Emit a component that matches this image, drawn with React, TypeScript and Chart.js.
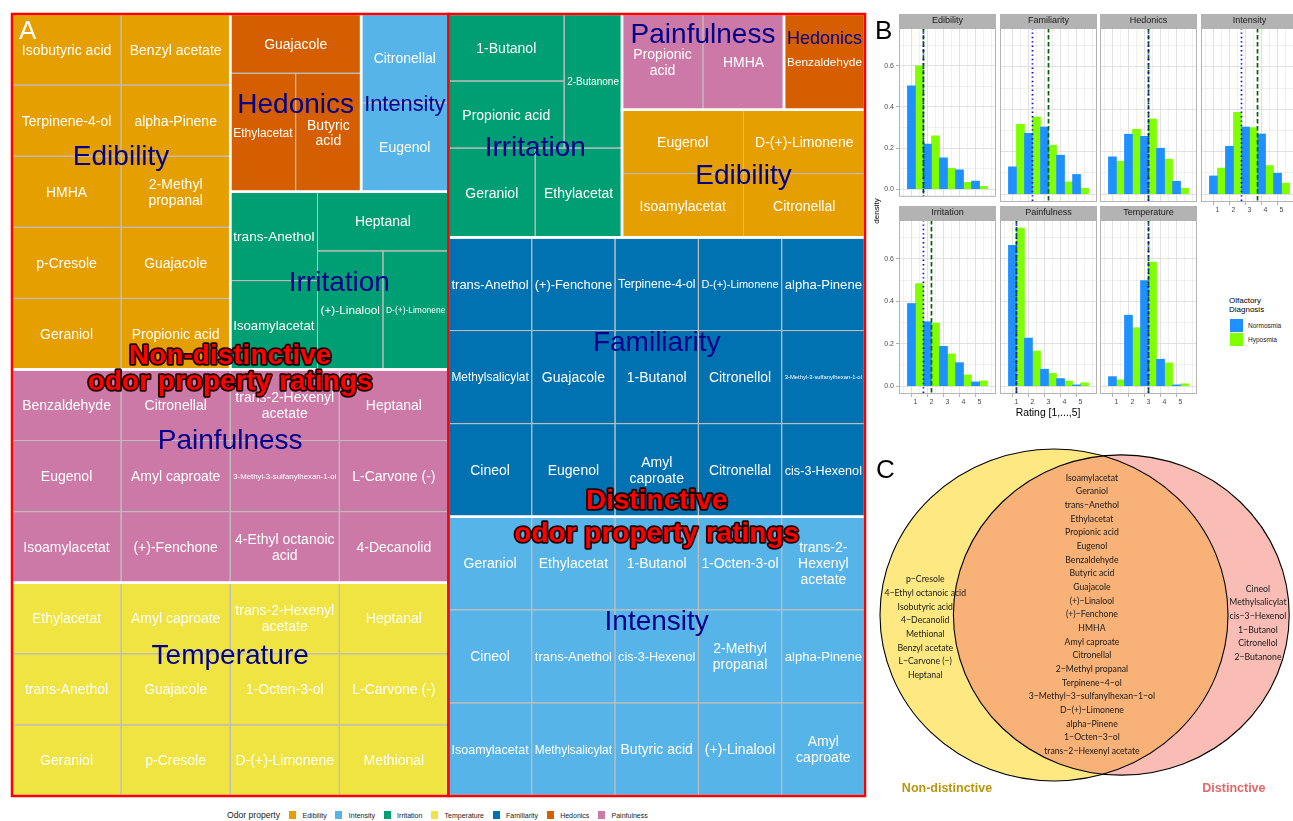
import React, { useEffect, useRef } from "react";
import { Chart, registerables } from "chart.js";

Chart.register(...registerables);

const FONT = "'Liberation Sans', Arial, Helvetica, sans-serif";
const VFONT = "Lato, 'Open Sans', sans-serif";
Chart.defaults.font.family = FONT;

// ================= Panel A: treemap data =================
const propertyNames = ["Edibility", "Intensity", "Irritation", "Temperature", "Familiarity", "Hedonics", "Painfulness"];
const propertyColors = ["#E69F00", "#56B4E9", "#009E73", "#F0E442", "#0072B2", "#D55E00", "#CC79A7"];
const subgroupLines = [
  ["Non-distinctive", "odor property ratings"],
  ["Distinctive", "odor property ratings"],
];
const subgroupLabelY = [
  [0.435, 0.468],
  [0.62, 0.662],
];

const ndEdibility = ["Isobutyric acid", "Benzyl acetate", "Terpinene-4-ol", "alpha-Pinene", "HMHA", "2-Methyl propanal", "p-Cresole", "Guajacole", "Geraniol", "Propionic acid"];
const ndHedonics = ["Guajacole", "Ethylacetat", "Butyric acid"];
const ndIntensity = ["Citronellal", "Eugenol"];
const ndIrritation = ["trans-Anethol", "Isoamylacetat", "Heptanal", "(+)-Linalool", "D-(+)-Limonene"];
const ndPainfulness = ["Benzaldehyde", "Citronellal", "trans-2-Hexenyl acetate", "Heptanal", "Eugenol", "Amyl caproate", "3-Methyl-3-sulfanylhexan-1-ol", "L-Carvone (-)", "Isoamylacetat", "(+)-Fenchone", "4-Ethyl octanoic acid", "4-Decanolid"];
const ndTemperature = ["Ethylacetat", "Amyl caproate", "trans-2-Hexenyl acetate", "Heptanal", "trans-Anethol", "Guajacole", "1-Octen-3-ol", "L-Carvone (-)", "Geraniol", "p-Cresole", "D-(+)-Limonene", "Methional"];
const dIrritation = ["1-Butanol", "Propionic acid", "2-Butanone", "Geraniol", "Ethylacetat"];
const dPainfulness = ["Propionic acid", "HMHA"];
const dHedonics = ["Benzaldehyde"];
const dEdibility = ["Eugenol", "D-(+)-Limonene", "Isoamylacetat", "Citronellal"];
const dFamiliarity = ["trans-Anethol", "(+)-Fenchone", "Terpinene-4-ol", "D-(+)-Limonene", "alpha-Pinene", "Methylsalicylat", "Guajacole", "1-Butanol", "Citronellol", "3-Methyl-3-sulfanylhexan-1-ol", "Cineol", "Eugenol", "Amyl caproate", "Citronellal", "cis-3-Hexenol"];
const dIntensity = ["Geraniol", "Ethylacetat", "1-Butanol", "1-Octen-3-ol", "trans-2-Hexenyl acetate", "Cineol", "trans-Anethol", "cis-3-Hexenol", "2-Methyl propanal", "alpha-Pinene", "Isoamylacetat", "Methylsalicylat", "Butyric acid", "(+)-Linalool", "Amyl caproate"];

// ================= Panel B: density data =================
const ratings = [1, 2, 3, 4, 5];
const facetNames = ["Edibility", "Familiarity", "Hedonics", "Intensity", "Irritation", "Painfulness", "Temperature"];
const normEdibility = [0.503, 0.22, 0.152, 0.094, 0.039];
const hypoEdibility = [0.6, 0.259, 0.102, 0.033, 0.014];
const normFamiliarity = [0.129, 0.287, 0.317, 0.184, 0.093];
const hypoFamiliarity = [0.33, 0.364, 0.231, 0.058, 0.028];
const normHedonics = [0.176, 0.283, 0.273, 0.217, 0.061];
const hypoHedonics = [0.155, 0.306, 0.355, 0.165, 0.028];
const normIntensity = [0.086, 0.226, 0.317, 0.284, 0.099];
const hypoIntensity = [0.123, 0.386, 0.314, 0.135, 0.052];
const normIrritation = [0.39, 0.304, 0.188, 0.111, 0.02];
const hypoIrritation = [0.484, 0.298, 0.152, 0.053, 0.025];
const normPainfulness = [0.665, 0.227, 0.08, 0.036, 0.006];
const hypoPainfulness = [0.746, 0.166, 0.06, 0.024, 0.016];
const normTemperature = [0.045, 0.335, 0.498, 0.127, 0.006];
const hypoTemperature = [0.03, 0.276, 0.585, 0.11, 0.011];
const normMedian = [1.5, 2, 3, 2.5, 1.5, 1, 3];
const hypoMedian = [1.5, 3, 3, 3.5, 2, 1, 3];
const diagnosisNames = ["Normosmia", "Hyposmia"];
const diagnosisColors = ["#1E90FF", "#7FFF00"];
const yTickValues = [0, 0.1, 0.2, 0.3, 0.4, 0.5, 0.6, 0.7];
const xTickValues = [0.5, 1, 1.5, 2, 2.5, 3, 3.5, 4, 4.5, 5, 5.5];

const normByFacet = [normEdibility, normFamiliarity, normHedonics, normIntensity, normIrritation, normPainfulness, normTemperature];
const hypoByFacet = [hypoEdibility, hypoFamiliarity, hypoHedonics, hypoIntensity, hypoIrritation, hypoPainfulness, hypoTemperature];

// ================= Panel C: Venn data =================
const vennLeftOnly = ["p\u2212Cresole", "4\u2212Ethyl octanoic acid", "Isobutyric acid", "4\u2212Decanolid", "Methional", "Benzyl acetate", "L\u2212Carvone (\u2212)", "Heptanal"];
const vennBoth = ["Isoamylacetat", "Geraniol", "trans\u2212Anethol", "Ethylacetat", "Propionic acid", "Eugenol", "Benzaldehyde", "Butyric acid", "Guajacole", "(+)\u2212Linalool", "(+)\u2212Fenchone", "HMHA", "Amyl caproate", "Citronellal", "2\u2212Methyl propanal", "Terpinene\u22124\u2212ol", "3\u2212Methyl\u22123\u2212sulfanylhexan\u22121\u2212ol", "D\u2212(+)\u2212Limonene", "alpha\u2212Pinene", "1\u2212Octen\u22123\u2212ol", "trans\u22122\u2212Hexenyl acetate"];
const vennRightOnly = ["Cineol", "Methylsalicylat", "cis\u22123\u2212Hexenol", "1\u2212Butanol", "Citronellol", "2\u2212Butanone"];
const vennCategories = ["Non-distinctive", "Distinctive"];
const vennCategoryColors = ["#B8970F", "#E46868"];
const vennFill = ["rgba(251,209,5,0.5)", "rgba(243,123,107,0.5)"];
const vennTextX = [-0.74, 0.218, 1.172];
const vennTextY = [-0.075, 0.003, -0.048];
const vennCatX = [-0.615, 1.034];
const vennCatY = -1.048;

// ================= Treemap layout =================
type Spec = any;
const H = (...c: Spec[]) => ({ d: "h", c });
const V = (...c: Spec[]) => ({ d: "v", c });
const G = (g: number) => ({ g });
function grid(n: number, cols: number) {
  const rows: Spec[] = [];
  for (let i = 0; i < n; i += cols) {
    const r: number[] = [];
    for (let j = i; j < Math.min(n, i + cols); j++) r.push(j);
    rows.push(H(...r));
  }
  return V(...rows);
}

const groupTable = [
  { sub: 0, prop: 0, items: ndEdibility, arr: grid(10, 2), labelY: 0.396 },
  { sub: 0, prop: 5, items: ndHedonics, arr: V(0, H(1, 2)), labelY: 0.5 },
  { sub: 0, prop: 1, items: ndIntensity, arr: V(0, 1), labelY: 0.5 },
  { sub: 0, prop: 2, items: ndIrritation, arr: H(V(0, 1), V(2, H(3, 4))), labelY: 0.5 },
  { sub: 0, prop: 6, items: ndPainfulness, arr: grid(12, 4), labelY: 0.325 },
  { sub: 0, prop: 3, items: ndTemperature, arr: grid(12, 4), labelY: 0.336 },
  { sub: 1, prop: 2, items: dIrritation, arr: V(H(V(0, 1), 2), H(3, 4)), labelY: 0.59 },
  { sub: 1, prop: 6, items: dPainfulness, arr: H(0, 1), labelY: 0.2 },
  { sub: 1, prop: 5, items: dHedonics, arr: 0, labelY: 0.25 },
  { sub: 1, prop: 0, items: dEdibility, arr: grid(4, 2), labelY: 0.5 },
  { sub: 1, prop: 4, items: dFamiliarity, arr: grid(15, 5), labelY: 0.37 },
  { sub: 1, prop: 1, items: dIntensity, arr: grid(15, 5), labelY: 0.37 },
];
const treeLayout = H(
  V(H(G(0), V(H(G(1), G(2)), G(3))), G(4), G(5)),
  V(H(G(6), V(H(G(7), G(8)), G(9))), G(10), G(11))
);

function buildTreemap() {
  const cells: any[] = [];
  const groups: any[] = [];
  const cnt = (s: Spec): number => {
    if (typeof s === "number") return 1;
    if (s.g !== undefined) return groupTable[s.g].items.length;
    return s.c.reduce((a: number, c: Spec) => a + cnt(c), 0);
  };
  const lay = (s: Spec, x0: number, y0: number, x1: number, y1: number, gi: number) => {
    if (typeof s === "number") {
      cells.push({ x0, y0, x1, y1, g: gi, label: groupTable[gi].items[s] });
      return;
    }
    if (s.g !== undefined) {
      groups.push({ x0, y0, x1, y1, g: s.g });
      lay(groupTable[s.g].arr, x0, y0, x1, y1, s.g);
      return;
    }
    const total = cnt(s);
    let acc = 0;
    for (const c of s.c) {
      const n = cnt(c);
      if (s.d === "h") {
        lay(c, x0 + ((x1 - x0) * acc) / total, y0, x0 + ((x1 - x0) * (acc + n)) / total, y1, gi);
      } else {
        lay(c, x0, y0 + ((y1 - y0) * acc) / total, x1, y0 + ((y1 - y0) * (acc + n)) / total, gi);
      }
      acc += n;
    }
  };
  lay(treeLayout, 0, 0, 1, 1, -1);
  const subs = subgroupLines.map((_, si) => {
    const gs = groups.filter((g) => groupTable[g.g].sub === si);
    return {
      x0: Math.min(...gs.map((g) => g.x0)),
      y0: Math.min(...gs.map((g) => g.y0)),
      x1: Math.max(...gs.map((g) => g.x1)),
      y1: Math.max(...gs.map((g) => g.y1)),
    };
  });
  return { cells, groups, subs };
}

function tokenize(text: string) {
  const toks: { t: string; sep: string }[] = [];
  text.split(" ").forEach((w, wi) => {
    const parts = w.split(/(?<=-)(?=[A-Za-z])/);
    parts.forEach((p, pi) => toks.push({ t: p, sep: wi > 0 && pi === 0 ? " " : "" }));
  });
  return toks;
}
function wrapGreedy(ctx: CanvasRenderingContext2D, toks: { t: string; sep: string }[], avail: number) {
  const lines: string[] = [];
  let cur = "";
  for (const tk of toks) {
    const cand = cur === "" ? tk.t : cur + tk.sep + tk.t;
    if (cur === "" || ctx.measureText(cand).width <= avail) cur = cand;
    else {
      lines.push(cur);
      cur = tk.t;
    }
  }
  if (cur) lines.push(cur);
  return lines;
}
function fitText(ctx: CanvasRenderingContext2D, text: string, w: number, h: number, base: number, lh: number, pad: number, weight = "") {
  const avail = w - 2 * pad;
  ctx.font = `${weight}${base}px ${FONT}`;
  const full = ctx.measureText(text).width;
  if (full <= avail) return { size: base, lines: [text] };
  if (text.indexOf(" ") >= 0) {
    const lines = wrapGreedy(ctx, tokenize(text), avail);
    const mw = Math.max(...lines.map((l) => ctx.measureText(l).width));
    const k = Math.min(1, avail / mw, (h - 4) / (lines.length * base * lh));
    return { size: base * k, lines };
  }
  return { size: (base * avail) / full, lines: [text] };
}
function drawLines(ctx: CanvasRenderingContext2D, lines: string[], size: number, cx: number, cy: number, lh: number, weight = "") {
  ctx.font = `${weight}${size}px ${FONT}`;
  const n = lines.length;
  lines.forEach((l, i) => {
    const y = cy + (i - (n - 1) / 2) * size * lh + size * 0.358;
    ctx.fillText(l, cx, y);
  });
}

function makeTreemap(canvas: HTMLCanvasElement) {
  const tm = buildTreemap();
  const plugin = {
    id: "treemapDraw",
    afterDraw(chart: any) {
      const { ctx } = chart;
      const xs = chart.scales.x;
      const ys = chart.scales.y;
      const R = (r: any) => {
        const l = xs.getPixelForValue(r.x0);
        const rr = xs.getPixelForValue(r.x1);
        const t = ys.getPixelForValue(r.y0);
        const b = ys.getPixelForValue(r.y1);
        return { l, t, w: rr - l, h: b - t };
      };
      ctx.save();
      for (const c of tm.cells) {
        const p = R(c);
        ctx.fillStyle = propertyColors[groupTable[c.g].prop];
        ctx.fillRect(p.l, p.t, p.w, p.h);
      }
      ctx.strokeStyle = "#BDBDBD";
      ctx.lineWidth = 1;
      for (const c of tm.cells) {
        const p = R(c);
        ctx.strokeRect(p.l, p.t, p.w, p.h);
      }
      ctx.strokeStyle = "#FFFFFF";
      ctx.lineWidth = 2.5;
      for (const g of tm.groups) {
        const p = R(g);
        ctx.strokeRect(p.l, p.t, p.w, p.h);
      }
      ctx.strokeStyle = "#FF0000";
      ctx.lineWidth = 2.5;
      for (const s of tm.subs) {
        const p = R(s);
        ctx.strokeRect(p.l, p.t, p.w, p.h);
      }
      ctx.textAlign = "center";
      ctx.textBaseline = "alphabetic";
      ctx.fillStyle = "#FFFFFF";
      for (const c of tm.cells) {
        const p = R(c);
        const f = fitText(ctx, c.label, p.w, p.h, 14, 1.14, 3);
        drawLines(ctx, f.lines, f.size, p.l + p.w / 2, p.t + p.h / 2, 1.14);
      }
      ctx.fillStyle = "#00008B";
      for (const g of tm.groups) {
        const p = R(g);
        const name = propertyNames[groupTable[g.g].prop];
        const f = fitText(ctx, name, p.w, p.h, 28, 1.1, 3);
        drawLines(ctx, f.lines, f.size, p.l + p.w / 2, p.t + p.h * groupTable[g.g].labelY, 1.1);
      }
      tm.subs.forEach((s, si) => {
        const p = R(s);
        ctx.font = `bold 28px ${FONT}`;
        ctx.lineJoin = "round";
        subgroupLines[si].forEach((line, li) => {
          const y = p.t + p.h * subgroupLabelY[si][li] + 28 * 0.358;
          ctx.strokeStyle = "#1A0000";
          ctx.lineWidth = 3.5;
          ctx.strokeText(line, p.l + p.w / 2, y);
          ctx.fillStyle = "#FF0000";
          ctx.fillText(line, p.l + p.w / 2, y);
        });
      });
      ctx.restore();
    },
  };
  return new Chart(canvas, {
    type: "scatter",
    data: { datasets: [] },
    options: {
      animation: false,
      responsive: false,
      events: [],
      layout: { padding: { left: 12, top: 14, right: 5, bottom: 4 } },
      plugins: { legend: { display: false }, tooltip: { enabled: false } },
      scales: {
        x: { type: "linear", min: 0, max: 1, display: false },
        y: { type: "linear", min: 0, max: 1, reverse: true, display: false },
      },
    },
    plugins: [plugin],
  } as any);
}

// ================= Facets (Panel B) =================
const colLefts = [899, 999.5, 1100, 1200.5];
const rowTops = [28, 220];
const PANEL_W = 96.5;
const PANEL_H = 174;
const STRIP_H = 14;
const Y_AXIS_W = 29;
const X_AXIS_H = 14;

function facetGeom(i: number) {
  const col = i % 4;
  const row = Math.floor(i / 4);
  const showY = col === 0;
  const showX = row === 1 || i === 3;
  const left = colLefts[col] - (showY ? Y_AXIS_W : 0);
  const top = rowTops[row] - STRIP_H;
  const width = Math.ceil(PANEL_W + (showY ? Y_AXIS_W : 0) + 1);
  const height = STRIP_H + PANEL_H + (showX ? X_AXIS_H : 1);
  return { col, row, showX, showY, left, top, width, height };
}

function makeFacet(canvas: HTMLCanvasElement, i: number) {
  const g = facetGeom(i);
  const norm = normByFacet[i];
  const hypo = hypoByFacet[i];
  const plugin = {
    id: "facetDeco",
    afterDatasetsDraw(chart: any) {
      const { ctx, chartArea: a } = chart;
      const xs = chart.scales.x;
      ctx.save();
      ctx.beginPath();
      ctx.rect(a.left, a.top, a.right - a.left, a.bottom - a.top);
      ctx.clip();
      const gx = xs.getPixelForValue(hypoMedian[i]);
      ctx.strokeStyle = "#006400";
      ctx.lineWidth = 1.7;
      ctx.setLineDash([4.5, 2.5]);
      ctx.beginPath();
      ctx.moveTo(gx, a.top);
      ctx.lineTo(gx, a.bottom);
      ctx.stroke();
      const bx = xs.getPixelForValue(normMedian[i]);
      ctx.strokeStyle = "#0000FF";
      ctx.lineWidth = 1.7;
      ctx.setLineDash([1.4, 3]);
      ctx.beginPath();
      ctx.moveTo(bx, a.top);
      ctx.lineTo(bx, a.bottom);
      ctx.stroke();
      ctx.restore();
      ctx.save();
      ctx.strokeStyle = "#B3B3B3";
      ctx.lineWidth = 1;
      ctx.strokeRect(a.left + 0.5, a.top + 0.5, a.right - a.left - 1, a.bottom - a.top - 1);
      ctx.fillStyle = "#B3B3B3";
      ctx.fillRect(a.left, a.top - STRIP_H, a.right - a.left, STRIP_H);
      ctx.fillStyle = "#1A1A1A";
      ctx.font = `9px ${FONT}`;
      ctx.textAlign = "center";
      ctx.textBaseline = "middle";
      ctx.fillText(facetNames[i], (a.left + a.right) / 2, a.top - STRIP_H / 2);
      ctx.restore();
    },
  };
  const isMajorY = (v: number) => Math.round(v * 10) % 2 === 0;
  const isMajorX = (v: number) => Math.abs(v - Math.round(v)) < 1e-6;
  return new Chart(canvas, {
    type: "bar",
    data: {
      datasets: [
        {
          label: diagnosisNames[0],
          data: ratings.map((r, k) => ({ x: r - 0.25, y: norm[k] })),
          backgroundColor: diagnosisColors[0],
          borderWidth: 0,
          grouped: false,
          barPercentage: 1,
          categoryPercentage: 1,
        },
        {
          label: diagnosisNames[1],
          data: ratings.map((r, k) => ({ x: r + 0.25, y: hypo[k] })),
          backgroundColor: diagnosisColors[1],
          borderWidth: 0,
          grouped: false,
          barPercentage: 1,
          categoryPercentage: 1,
        },
      ],
    },
    options: {
      animation: false,
      responsive: false,
      events: [],
      layout: { autoPadding: false, padding: { top: STRIP_H, right: 1, left: 0, bottom: g.showX ? 0 : 1 } },
      plugins: { legend: { display: false }, tooltip: { enabled: false } },
      scales: {
        x: {
          type: "linear",
          min: 0.25,
          max: 5.75,
          afterBuildTicks: (s: any) => {
            s.ticks = xTickValues.map((v) => ({ value: v }));
          },
          afterFit: (s: any) => {
            s.height = g.showX ? X_AXIS_H : 0;
          },
          border: { display: false },
          grid: {
            color: "#DEDEDE",
            lineWidth: (c: any) => (c.tick && isMajorX(c.tick.value) ? 0.9 : 0.45),
            drawTicks: g.showX,
            tickLength: 3,
            tickColor: (c: any) => (c.tick && isMajorX(c.tick.value) ? "#B3B3B3" : "rgba(0,0,0,0)"),
            tickWidth: 1,
          },
          ticks: {
            display: g.showX,
            autoSkip: false,
            maxRotation: 0,
            padding: 1,
            font: { size: 7, family: FONT },
            color: "#4D4D4D",
            callback: (v: any) => (isMajorX(v) ? String(Math.round(v)) : ""),
          },
        },
        y: {
          type: "linear",
          min: -0.037,
          max: 0.784,
          afterBuildTicks: (s: any) => {
            s.ticks = yTickValues.map((v) => ({ value: v }));
          },
          afterFit: (s: any) => {
            s.width = g.showY ? Y_AXIS_W : 0;
          },
          border: { display: false },
          grid: {
            color: "#DEDEDE",
            lineWidth: (c: any) => (c.tick && isMajorY(c.tick.value) ? 0.9 : 0.45),
            drawTicks: g.showY,
            tickLength: 3,
            tickColor: (c: any) => (c.tick && isMajorY(c.tick.value) ? "#B3B3B3" : "rgba(0,0,0,0)"),
            tickWidth: 1,
          },
          ticks: {
            display: g.showY,
            autoSkip: false,
            padding: 2,
            font: { size: 7, family: FONT },
            color: "#4D4D4D",
            callback: (v: any) => (isMajorY(v) ? Number(v).toFixed(1) : ""),
          },
        },
      },
    },
    plugins: [plugin],
  } as any);
}

// ================= Venn (Panel C) =================
const VENN_BOX = { left: 870, top: 420, width: 423, height: 395 };
function makeVenn(canvas: HTMLCanvasElement) {
  const nL = vennLeftOnly.length + vennBoth.length;
  const nR = vennRightOnly.length + vennBoth.length;
  const rL = 1;
  const rR = Math.sqrt(nR / nL);
  const target = (Math.PI * vennBoth.length) / nL;
  const lens = (d: number) => {
    const a1 = Math.acos((d * d + rL * rL - rR * rR) / (2 * d * rL));
    const a2 = Math.acos((d * d + rR * rR - rL * rL) / (2 * d * rR));
    const k = Math.sqrt(Math.max(0, (-d + rL + rR) * (d + rL - rR) * (d - rL + rR) * (d + rL + rR)));
    return rL * rL * a1 + rR * rR * a2 - 0.5 * k;
  };
  let lo = Math.abs(rL - rR) + 1e-6;
  let hi = rL + rR - 1e-6;
  for (let k = 0; k < 80; k++) {
    const m = (lo + hi) / 2;
    if (lens(m) > target) lo = m;
    else hi = m;
  }
  const dist = (lo + hi) / 2;
  const plugin = {
    id: "vennDraw",
    afterDraw(chart: any) {
      const { ctx } = chart;
      const X = (v: number) => chart.scales.x.getPixelForValue(v);
      const Y = (v: number) => chart.scales.y.getPixelForValue(v);
      const sx = X(1) - X(0);
      const sy = Y(0) - Y(1);
      const circles = [
        { cx: 0, r: rL },
        { cx: dist, r: rR },
      ];
      ctx.save();
      circles.forEach((c, k) => {
        ctx.beginPath();
        ctx.ellipse(X(c.cx), Y(0), c.r * sx, c.r * sy, 0, 0, Math.PI * 2);
        ctx.fillStyle = vennFill[k];
        ctx.fill();
      });
      ctx.strokeStyle = "#000000";
      ctx.lineWidth = 1.1;
      circles.forEach((c) => {
        ctx.beginPath();
        ctx.ellipse(X(c.cx), Y(0), c.r * sx, c.r * sy, 0, 0, Math.PI * 2);
        ctx.stroke();
      });
      ctx.fillStyle = "#1A1A1A";
      ctx.textAlign = "center";
      ctx.textBaseline = "middle";
      ctx.font = `8.7px ${VFONT}`;
      [vennLeftOnly, vennBoth, vennRightOnly].forEach((list, k) => {
        const cy = Y(vennTextY[k]);
        const n = list.length;
        list.forEach((t, li) => {
          ctx.fillText(t, X(vennTextX[k]), cy + (li - (n - 1) / 2) * 13.65);
        });
      });
      ctx.font = `bold 12.5px ${FONT}`;
      vennCategories.forEach((t, k) => {
        ctx.fillStyle = vennCategoryColors[k];
        ctx.fillText(t, X(vennCatX[k]), Y(vennCatY));
      });
      ctx.restore();
    },
  };
  const xmin = -(1054 - VENN_BOX.left) / 174;
  const ymax = (615 - VENN_BOX.top) / 166;
  return new Chart(canvas, {
    type: "scatter",
    data: { datasets: [] },
    options: {
      animation: false,
      responsive: false,
      events: [],
      layout: { padding: 0 },
      plugins: { legend: { display: false }, tooltip: { enabled: false } },
      scales: {
        x: { type: "linear", min: xmin, max: xmin + VENN_BOX.width / 174, display: false },
        y: { type: "linear", min: ymax - VENN_BOX.height / 166, max: ymax, display: false },
      },
    },
    plugins: [plugin],
  } as any);
}

const abs = (left: number, top: number, extra: any = {}) => ({ position: "absolute" as const, left, top, ...extra });

export default function App() {
  const aRef = useRef<HTMLCanvasElement>(null);
  const cRef = useRef<HTMLCanvasElement>(null);
  const bRefs = useRef<(HTMLCanvasElement | null)[]>([]);
  useEffect(() => {
    const charts: any[] = [];
    charts.push(makeTreemap(aRef.current as HTMLCanvasElement));
    facetNames.forEach((_, i) => charts.push(makeFacet(bRefs.current[i] as HTMLCanvasElement, i)));
    charts.push(makeVenn(cRef.current as HTMLCanvasElement));
    return () => charts.forEach((c) => c.destroy());
  }, []);

  const letter = (t: string, left: number, baseline: number, color: string) => (
    <div style={abs(left, baseline - 22, { fontFamily: FONT, fontSize: 26, lineHeight: "26px", color })}>{t}</div>
  );

  return (
    <div style={{ position: "absolute", left: 0, top: 0, width: 1293, height: 821, overflow: "hidden", background: "#FFFFFF" }}>
      <canvas ref={aRef} width={870} height={800} style={abs(0, 0, { width: 870, height: 800 })} />
      {facetNames.map((_, i) => {
        const g = facetGeom(i);
        return (
          <canvas
            key={i}
            ref={(el) => {
              bRefs.current[i] = el;
            }}
            width={g.width}
            height={g.height}
            style={abs(g.left, g.top, { width: g.width, height: g.height })}
          />
        );
      })}
      <canvas ref={cRef} width={VENN_BOX.width} height={VENN_BOX.height} style={abs(VENN_BOX.left, VENN_BOX.top, { width: VENN_BOX.width, height: VENN_BOX.height })} />

      {letter("A", 19, 39, "#FFFFFF")}
      {letter("B", 875, 39, "#000000")}
      {letter("C", 876, 478, "#000000")}

      <div style={abs(227, 809, { display: "flex", alignItems: "center", fontFamily: FONT, fontSize: 7, color: "#1A1A1A", whiteSpace: "nowrap", height: 12 })}>
        <span style={{ fontSize: 8.6, marginRight: 9 }}>Odor property</span>
        {propertyNames.map((n, k) => (
          <React.Fragment key={n}>
            <span style={{ display: "inline-block", width: 7, height: 8, background: propertyColors[k], marginRight: 6.5 }} />
            <span style={{ marginRight: 8.7 }}>{n}</span>
          </React.Fragment>
        ))}
      </div>

      <div style={abs(877 - 30, 211 - 5, { width: 60, height: 10, lineHeight: "10px", textAlign: "center", fontFamily: FONT, fontSize: 8, color: "#000", transform: "rotate(-90deg)" })}>density</div>
      <div style={abs(1048 - 60, 413 - 7, { width: 120, height: 14, lineHeight: "14px", textAlign: "center", fontFamily: FONT, fontSize: 10.4, color: "#000" })}>Rating [1,...,5]</div>
      <div style={abs(1229, 296, { fontFamily: FONT, fontSize: 8, lineHeight: "9px", color: "#000" })}>
        Olfactory
        <br />
        Diagnosis
      </div>
      {diagnosisNames.map((n, k) => (
        <React.Fragment key={n}>
          <div style={abs(1230, 319 + k * 14, { width: 13, height: 13, background: diagnosisColors[k] })} />
          <div style={abs(1248, 319 + k * 14, { fontFamily: FONT, fontSize: 6.5, lineHeight: "13px", color: "#1A1A1A" })}>{n}</div>
        </React.Fragment>
      ))}
    </div>
  );
}
